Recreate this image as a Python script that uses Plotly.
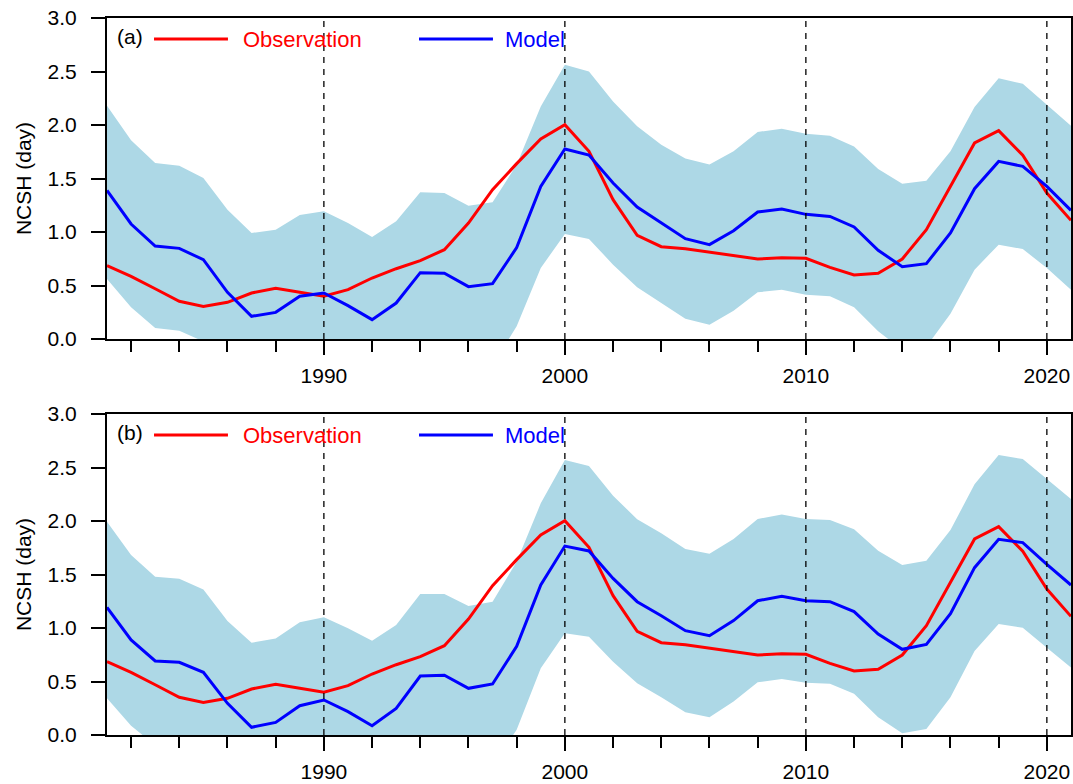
import plotly.graph_objects as go

years = list(range(1981, 2022))

obs = [0.685, 0.586, 0.47, 0.352, 0.305, 0.343, 0.43, 0.473, 0.436, 0.399,
       0.461, 0.57, 0.657, 0.732, 0.835, 1.084, 1.396, 1.639, 1.869, 2.003,
       1.754, 1.302, 0.969, 0.863, 0.844, 0.81, 0.776, 0.748, 0.76, 0.754,
       0.67, 0.598, 0.614, 0.748, 1.022, 1.427, 1.832, 1.947, 1.717, 1.364, 1.109]

model_a = [1.389, 1.075, 0.869, 0.847, 0.741, 0.436, 0.212, 0.249, 0.399, 0.43,
           0.312, 0.181, 0.336, 0.62, 0.614, 0.489, 0.517, 0.854, 1.427, 1.776,
           1.72, 1.458, 1.234, 1.084, 0.938, 0.882, 1.012, 1.187, 1.215, 1.165,
           1.146, 1.047, 0.829, 0.676, 0.704, 0.991, 1.405, 1.66, 1.614, 1.427, 1.202]

upper_a = [2.18, 1.857, 1.645, 1.62, 1.505, 1.209, 0.991, 1.022, 1.159, 1.193,
           1.084, 0.953, 1.1, 1.371, 1.364, 1.246, 1.277, 1.629, 2.174, 2.564,
           2.50, 2.221, 1.988, 1.816, 1.688, 1.632, 1.754, 1.935, 1.966, 1.919,
           1.90, 1.80, 1.589, 1.452, 1.48, 1.754, 2.168, 2.436, 2.386, 2.19, 1.994]

lower_a = [0.561, 0.296, 0.103, 0.078, -0.023, -0.337, -0.567, -0.524, -0.361, -0.333,
           -0.46, -0.591, -0.428, -0.131, -0.136, -0.268, -0.243, 0.118, 0.664, 0.981,
           0.935, 0.695, 0.483, 0.336, 0.19, 0.134, 0.265, 0.436, 0.461, 0.414,
           0.399, 0.296, 0.072, -0.10, -0.072, 0.237, 0.648, 0.882, 0.841, 0.664, 0.461]

model_b = [1.193, 0.888, 0.692, 0.679, 0.586, 0.296, 0.072, 0.118, 0.274, 0.327,
           0.218, 0.087, 0.249, 0.551, 0.558, 0.436, 0.477, 0.829, 1.402, 1.766,
           1.72, 1.464, 1.246, 1.115, 0.975, 0.928, 1.069, 1.255, 1.296, 1.255,
           1.246, 1.153, 0.944, 0.801, 0.847, 1.134, 1.564, 1.829, 1.798, 1.595, 1.402]

upper_b = [1.994, 1.682, 1.48, 1.461, 1.361, 1.065, 0.863, 0.903, 1.053, 1.10,
           0.997, 0.882, 1.028, 1.318, 1.318, 1.206, 1.246, 1.62, 2.165, 2.57,
           2.514, 2.237, 2.016, 1.885, 1.738, 1.695, 1.832, 2.019, 2.062, 2.019,
           2.009, 1.922, 1.723, 1.589, 1.629, 1.916, 2.343, 2.617, 2.579, 2.393, 2.206]

lower_b = [0.343, 0.087, -0.096, -0.103, -0.189, -0.473, -0.719, -0.667, -0.505, -0.446,
           -0.561, -0.708, -0.53, -0.216, -0.202, -0.334, -0.292, 0.05, 0.623, 0.95,
           0.919, 0.685, 0.483, 0.352, 0.212, 0.165, 0.312, 0.492, 0.523, 0.489,
           0.48, 0.386, 0.165, 0.016, 0.056, 0.352, 0.785, 1.037, 1.003, 0.816, 0.632]

ref_years = [1990, 2000, 2010, 2020]
y_ticks = [0.0, 0.5, 1.0, 1.5, 2.0, 2.5, 3.0]
panel_labels = ["(a)", "(b)"]
series_names = ["Observation", "Model"]

FONT = "Liberation Sans, Arial, Helvetica, sans-serif"
BAND = "#ADD8E6"
RED = "#FF0000"
BLUE = "#0000FF"

fig = go.Figure()

panels = [("x", "y", model_a, upper_a, lower_a), ("x2", "y2", model_b, upper_b, lower_b)]
for xa, ya, mod, up, lo in panels:
    fig.add_trace(go.Scatter(x=years, y=lo, mode="lines", line=dict(width=0, color=BAND),
                             xaxis=xa, yaxis=ya, showlegend=False, hoverinfo="skip"))
    fig.add_trace(go.Scatter(x=years, y=up, mode="lines", line=dict(width=0, color=BAND),
                             fill="tonexty", fillcolor=BAND,
                             xaxis=xa, yaxis=ya, showlegend=False, hoverinfo="skip"))
    fig.add_trace(go.Scatter(x=years, y=obs, mode="lines", line=dict(width=3, color=RED),
                             xaxis=xa, yaxis=ya, showlegend=False, name=series_names[0]))
    fig.add_trace(go.Scatter(x=years, y=mod, mode="lines", line=dict(width=3, color=BLUE),
                             xaxis=xa, yaxis=ya, showlegend=False, name=series_names[1]))

xdom = [0.0997, 0.9981]
ydoms = [[0.5676, 0.977], [0.0625, 0.4719]]

common_x = dict(range=[1981, 2021], tickmode="linear", tick0=1990, dtick=10,
                ticks="outside", ticklen=14, tickwidth=2, tickcolor="black",
                showline=True, linewidth=2, linecolor="black", mirror=True,
                showgrid=False, zeroline=False, ticklabelstandoff=3, automargin=False,
                tickfont=dict(family=FONT, size=21, color="black"),
                minor=dict(tickmode="linear", tick0=1980, dtick=2, ticks="outside",
                           ticklen=11, tickwidth=2, tickcolor="black", showgrid=False),
                domain=xdom)
common_y = dict(range=[0, 3], tickmode="array", tickvals=y_ticks,
                tickformat=".1f", ticks="outside", ticklen=14, tickwidth=2, tickcolor="black",
                showline=True, linewidth=2, linecolor="black", mirror=True,
                showgrid=False, zeroline=False, ticklabelstandoff=10, automargin=False,
                tickfont=dict(family=FONT, size=21, color="black"),
                title=dict(text="NCSH (day)", font=dict(family=FONT, size=21, color="black"),
                           standoff=10))

fig.update_layout(
    template="none",
    width=1073, height=784,
    margin=dict(l=0, r=0, t=0, b=0, pad=0, autoexpand=False),
    paper_bgcolor="white", plot_bgcolor="white",
    showlegend=False,
    xaxis=dict(**common_x, anchor="y"),
    yaxis=dict(**common_y, domain=ydoms[0], anchor="x"),
    xaxis2=dict(**common_x, anchor="y2"),
    yaxis2=dict(**common_y, domain=ydoms[1], anchor="x2"),
)

for xa in ["x", "x2"]:
    ya = "y" if xa == "x" else "y2"
    for yr in ref_years:
        fig.add_shape(type="line", xref=xa, yref=ya + " domain", x0=yr, x1=yr, y0=0, y1=1,
                      line=dict(color="black", width=1.3, dash="6px,6px"), layer="above")

for i, (xa, ya) in enumerate([("x", "y"), ("x2", "y2")]):
    xd = xa + " domain"
    yd = ya + " domain"
    ly = 0.9346
    fig.add_annotation(xref=xd, yref=yd, x=0.0083, y=ly + 0.008, text=panel_labels[i],
                       showarrow=False, xanchor="left", yanchor="middle",
                       font=dict(family=FONT, size=21, color="black"))
    fig.add_shape(type="line", xref=xd, yref=yd, x0=0.0488, x1=0.1255, y0=ly, y1=ly,
                  line=dict(color=RED, width=3), layer="above")
    fig.add_annotation(xref=xd, yref=yd, x=0.139, y=ly, text=series_names[0],
                       showarrow=False, xanchor="left", yanchor="middle",
                       font=dict(family=FONT, size=22, color=RED))
    fig.add_shape(type="line", xref=xd, yref=yd, x0=0.3237, x1=0.4004, y0=ly, y1=ly,
                  line=dict(color=BLUE, width=3), layer="above")
    fig.add_annotation(xref=xd, yref=yd, x=0.4108, y=ly, text=series_names[1],
                       showarrow=False, xanchor="left", yanchor="middle",
                       font=dict(family=FONT, size=22, color=BLUE))

fig.write_html("out.html", config={"displayModeBar": False},
               post_script="document.body.style.margin='0';document.body.style.overflow='hidden';")
